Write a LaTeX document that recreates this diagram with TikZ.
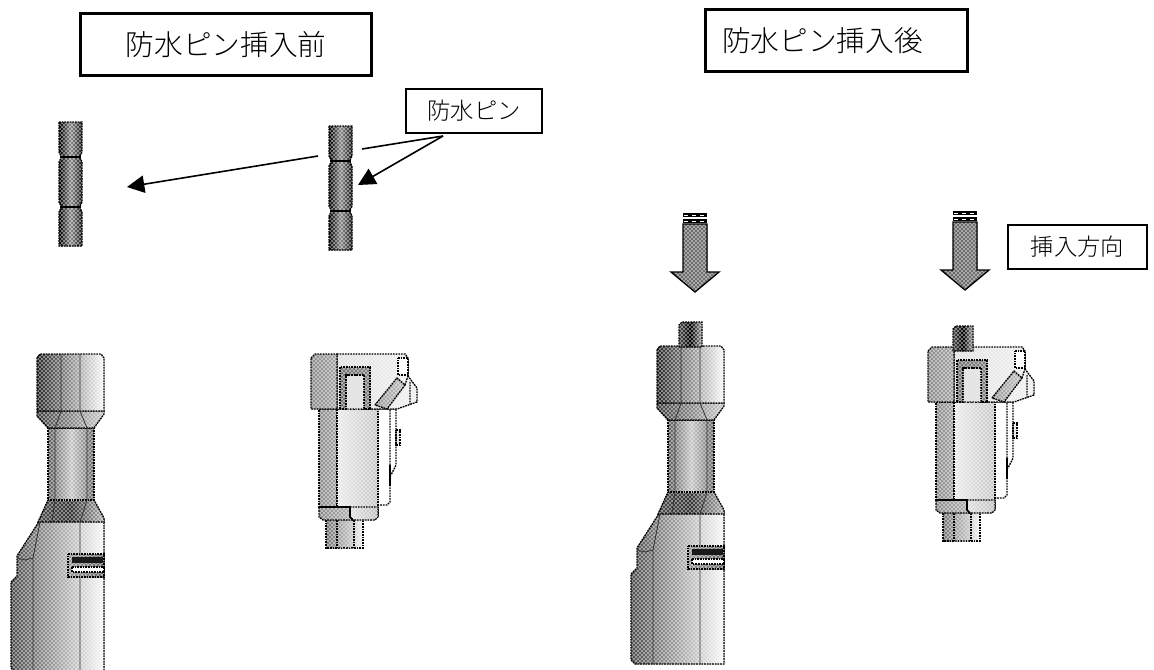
\documentclass[tikz,border=0pt]{standalone}
\usepackage{fontspec}
\setmainfont{Noto Sans CJK JP Light}
\usetikzlibrary{patterns,arrows.meta}
\pgfdeclarepatternformonly{stip}{\pgfqpoint{-1pt}{-1pt}}{\pgfqpoint{3pt}{3pt}}{\pgfqpoint{3pt}{3pt}}{%
  \pgfpathrectangle{\pgfqpoint{-.55pt}{-.55pt}}{\pgfqpoint{1.1pt}{1.1pt}}%
  \pgfpathrectangle{\pgfqpoint{.95pt}{.95pt}}{\pgfqpoint{1.1pt}{1.1pt}}%
  \pgfusepath{fill}}
\tikzset{
  sh/.style 2 args={preaction={fill,left color=#1,right color=#2},pattern=stip,pattern color=white},
  sh3/.style n args={3}{preaction={fill,left color=#1,right color=#3,middle color=#2},pattern=stip,pattern color=white},
  edge line/.style={draw=black,line width=1pt,dash pattern=on 1.3pt off .7pt},
  thin line/.style={draw=black!80,line width=.6pt},
  titlebox/.style={draw,line width=2.2pt,fill=white,inner sep=0pt,font=\fontsize{21.5}{24}\selectfont},
  labelbox/.style={draw,line width=1.2pt,fill=white,inner sep=0pt,font=\fontsize{17.5}{19}\selectfont},
  leader/.style={line width=1.2pt},
  leadarrow/.style={leader,-{Triangle[length=13pt,width=13pt]}},
  pin/.pic={
    \path[sh3={black}{black!45}{black!90},edge line]
      (59,0)--(82,0)--(82,30)--(80,34)--(80,36)--(82,40)--(82,80)--(80,84)--(80,86)--(82,90)--(82,124)--(59,124)--(59,90)--(61,86)--(61,84)--(59,80)--(59,40)--(61,36)--(61,34)--(59,30)--cycle;
    \draw[black,line width=1.2pt] (60,35)--(81,35) (60,85)--(81,85);
  },
  toppin/.pic={
    \path[sh3={black!70}{black}{black!35},edge line] (0,25)--(0,3)--(3,0)--(#1,0)--(#1,25)--cycle;
  },
  downarrow/.pic={
    \path[sh={black!60}{black!55},draw=black,line width=1pt]
      (-12,11)--(12,11)--(12,59)--(24,59)--(0,79)--(-24,59)--(-12,59)--cycle;
    \fill[black] (-12,0) rectangle (12,4);
    \fill[black] (-12,6) rectangle (12,10);
    \draw[white,line width=.5pt,dashed] (-11,2)--(11,2) (-11,8)--(11,8);
  },
  frontconn/.pic={
    \path[sh={black!70}{black!2},edge line] (40,520)--(17,556)--(17,576)--(11,582)--(11,668)--(15,672)--(104,672)--(104,520)--cycle;
    \path[sh3={black!70}{black!80}{black!30},edge line] (48,500)--(94,500)--(104,518)--(104,522)--(38,522)--cycle;
    \path[sh3={black!65}{black!22}{black!60},edge line] (48,428)--(94,428)--(94,500)--(48,500)--cycle;
    \path[sh={black!75}{black!20},edge line] (37,411)--(104,411)--(104,414)--(94,428)--(48,428)--(37,416)--cycle;
    \path[sh={black!85}{black!2},edge line] (37,358)--(40,354)--(101,354)--(104,358)--(104,411)--(37,411)--cycle;
    \path[sh={black!40}{black!60},edge line] (68,554)--(104,554)--(104,577)--(68,577)--cycle;
    \fill[black!90] (72,557) rectangle (103,563);
    \path[fill=white,edge line] (72,567)--(104,567)--(104,572)--(72,572)--cycle;
    \draw[thin line] (61,354)--(61,411)--(55,428)--(55,500)--(52,522)
      (80,354)--(80,411)--(87,428)--(87,500)--(80,522)--(80,554) (80,577)--(80,672)
      (33,558)--(33,672) (17,558)--(25,560)--(33,558)--(40,522);
  },
  sideconn/.pic={
    % plug
    \path[sh={black!55}{black!5},edge line] (326,515)--(363,515)--(363,548)--(326,548)--cycle;
    \fill[white,pattern=stip,pattern color=black!20] (338,515) rectangle (354,548);
    \draw[edge line] (337,515)--(337,548) (354,515)--(354,548);
    % right strip
    \path[fill=white,edge line] (375,409)--(390,409)--(390,502)--(387,505)--(375,505)--cycle;
    \draw[black,line width=1.5pt] (390,465)--(390,486);
    \path[fill=black!8,edge line] (396,430)--(400,430)--(400,445)--(396,445)--cycle;
    \draw[edge line] (391,409)--(396,409)--(396,465)--(391,475);
    % bodies
    \path[sh={black!45}{black!35},edge line] (319,409)--(337,409)--(337,507)--(319,507)--cycle;
    \path[sh={black!8}{black!22},edge line] (337,409)--(378,409)--(378,517)--(350,517)--(350,507)--(337,507)--cycle;
    \path[sh={black!12}{black!25},edge line] (350,507)--(378,507)--(378,517)--(375,520)--(353,520)--(350,517)--cycle;
    \path[sh={black!45}{black!30},edge line] (319,507)--(350,507)--(350,517)--(353,520)--(323,520)--(319,517)--cycle;
    \draw[black,line width=1.2pt] (319,507)--(350,507)--(350,517)--(353,520);
    % head
    \path[sh={black!12}{black!6},edge line] (337,354)--(405,354)--(408,358)--(408,376)--(417,388)--(417,402)--(397,409)--(337,409)--cycle;
    \path[sh={black!45}{black!35},edge line] (311,358)--(315,354)--(337,354)--(337,409)--(311,409)--cycle;
    % U slot
    \path[sh={black!55}{black!50},edge line] (340,409)--(340,367)--(370,367)--(370,409)--(364,409)--(364,375)--(346,375)--(346,409)--cycle;
    \fill[white,pattern=stip,pattern color=black!15] (346.5,376) rectangle (363.5,411);
    \draw[edge line] (346,375)--(364,375);
    % latch
    \path[sh={black!40}{black!25},edge line] (375,405)--(397,378)--(405,385)--(387,409)--cycle;
    \path[fill=white,edge line] (398,358)--(408,358)--(408,375)--(398,375)--cycle;
    \draw[edge line] (410,382)--(410,404) (405,385)--(408,376);
  }
}
\begin{document}
\begin{tikzpicture}[x=.75pt,y=-.75pt]
\useasboundingbox (0,0) rectangle (1154,669);
\begin{scope}[shift={(0,122)}]\pic {pin};\end{scope}
\begin{scope}[shift={(270,126)}]\pic {pin};\end{scope}
\pic {frontconn};
\pic {sideconn};
\begin{scope}[shift={(620,-8)}]\pic {frontconn};\end{scope}
\begin{scope}[shift={(617,-7)}]\pic {sideconn};\end{scope}
\begin{scope}[shift={(679,322)}]\pic {toppin=23};\end{scope}
\begin{scope}[shift={(953,326)}]\pic {toppin=20};\end{scope}
\begin{scope}[shift={(695,213)}]\pic {downarrow};\end{scope}
\begin{scope}[shift={(965,211)}]\pic {downarrow};\end{scope}
\node[titlebox,minimum width=218pt,minimum height=47pt] (t1) at (226,44.5) {防水ピン挿入前};
\node[titlebox,minimum width=197pt,minimum height=47pt] (t2) at (836.5,40.5) {\kern-21pt 防水ピン挿入後};
\node[labelbox,minimum width=102pt,minimum height=33pt] (pinlabel) at (474,111) {防水ピン};
\node[labelbox,minimum width=104pt,minimum height=33pt] (dirlabel) at (1077.5,247) {挿入方向};
\coordinate (fork) at (443,136);
\coordinate (gapa) at (362,149);
\coordinate (gapb) at (318,156);
\coordinate (tipa) at (127,187);
\coordinate (tipb) at (358,185);
\draw[leader] (fork) -- (gapa);
\draw[leadarrow] (gapb) -- (tipa);
\draw[leadarrow] (fork) -- (tipb);
\end{tikzpicture}
\end{document}
